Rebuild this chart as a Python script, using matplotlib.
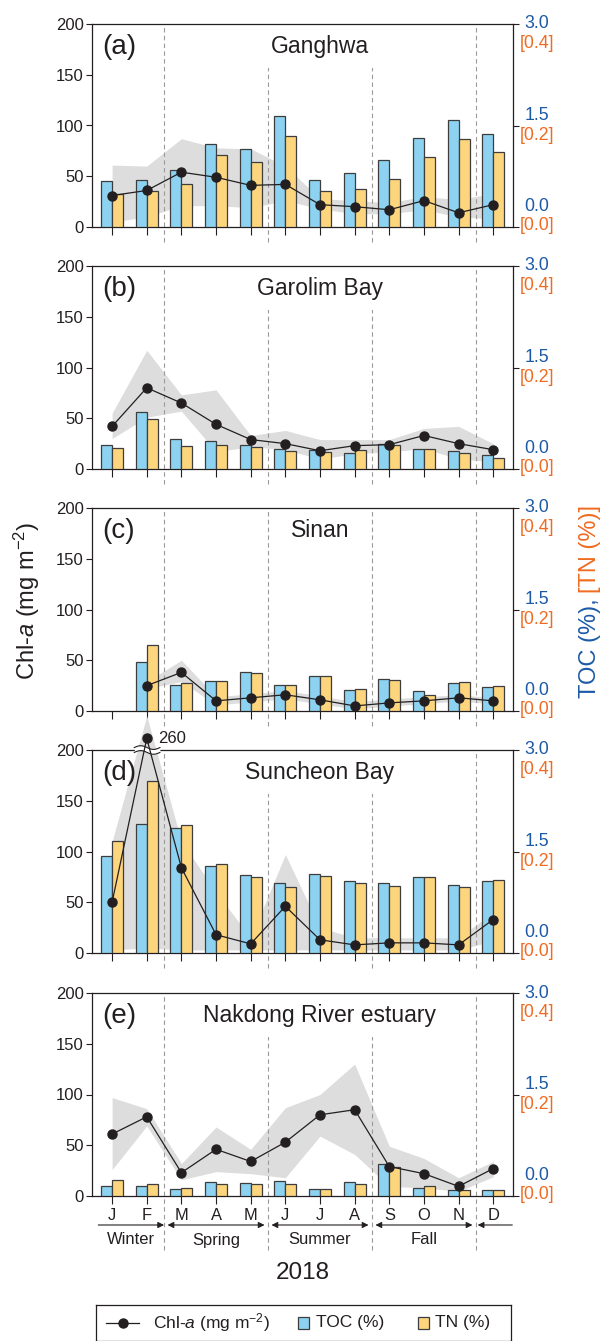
import numpy as np
import matplotlib
matplotlib.use('Agg')
import matplotlib.pyplot as plt
import matplotlib.transforms as mtransforms
from matplotlib import font_manager
from matplotlib.patches import Rectangle

names = {f.name for f in font_manager.fontManager.ttflist}
SANS = 'Liberation Sans' if 'Liberation Sans' in names else 'DejaVu Sans'
HAS_NARROW = 'Liberation Sans Narrow' in names
NARROW = 'Liberation Sans Narrow' if HAS_NARROW else SANS
NK = 1.0 if HAS_NARROW else 0.85   # shrink sizes if no narrow face

plt.rcParams['font.family'] = [SANS, 'DejaVu Sans']
plt.rcParams['mathtext.fontset'] = 'custom'
plt.rcParams['mathtext.rm'] = SANS
plt.rcParams['mathtext.it'] = SANS + ':italic'

INK = '#231f20'
BLUE = '#8dd3f1'
YELLOW = '#fdd57c'
EDGE = '#3d3d3d'
BAND = '#dddddd'
TOC_C = '#1c5aa6'
TN_C = '#f06b22'

months = ['J', 'F', 'M', 'A', 'M', 'J', 'J', 'A', 'S', 'O', 'N', 'D']
sites = ['Ganghwa', 'Garolim Bay', 'Sinan', 'Suncheon Bay', 'Nakdong River estuary']
letters = ['(a)', '(b)', '(c)', '(d)', '(e)']
seasons = ['Winter', 'Spring', 'Summer', 'Fall']
nan = np.nan

# Chl-a (mg m-2): mean, upper and lower edge of the shaded range
chl_a = [31, 36, 54, 49, 41, 42, 22, 20, 17, 26, 14, 22]
chl_a_hi = [61, 60, 87, 78, 77, 60, 28, 26, 24, 30, 27, 33]
chl_a_lo = [5, 10, 21, 21, 19, 26, 18, 13, 13, 17, 10, 8]
chl_b = [42, 80, 65, 44, 29, 25, 18, 23, 24, 33, 25, 19]
chl_b_hi = [55, 117, 73, 78, 33, 38, 29, 29, 29, 40, 42, 25]
chl_b_lo = [30, 51, 57, 17, 22, 19, 10, 15, 17, 20, 10, 7]
chl_c = [nan, 25, 38, 10, 13, 16, 11, 5, 8, 10, 13, 10]
chl_c_hi = [nan, 29, 50, 14, 17, 20, 15, 9, 12, 14, 16, 13]
chl_c_lo = [nan, 22, 29, 6, 9, 12, 7, 2, 5, 7, 10, 7]
chl_d = [50, 260, 84, 18, 9, 46, 13, 8, 10, 10, 8, 33]
chl_d_hi = [110, 377, 110, 60, 15, 97, 25, 15, 15, 15, 15, 40]
chl_d_lo = [3, 5, 3, 3, 3, 3, 3, 3, 3, 3, 3, 12]
chl_e = [61, 78, 23, 46, 34, 53, 80, 85, 29, 22, 9.5, 27]
chl_e_hi = [97, 86, 32, 68, 46, 87, 100, 130, 49, 37, 18, 34]
chl_e_lo = [26, 69, 16, 24, 22, 18, 59, 41, 9.5, 8, 4.6, 19]

# TOC (%)
toc_a = [0.68, 0.69, 0.84, 1.22, 1.16, 1.64, 0.69, 0.80, 0.99, 1.31, 1.58, 1.38]
toc_b = [0.36, 0.84, 0.44, 0.42, 0.35, 0.30, 0.28, 0.24, 0.37, 0.29, 0.26, 0.20]
toc_c = [nan, 0.73, 0.39, 0.44, 0.57, 0.38, 0.51, 0.31, 0.47, 0.30, 0.42, 0.36]
toc_d = [1.43, 1.91, 1.85, 1.28, 1.15, 1.03, 1.17, 1.07, 1.04, 1.12, 1.00, 1.07]
toc_e = [0.15, 0.15, 0.10, 0.21, 0.19, 0.22, 0.10, 0.21, 0.47, 0.12, 0.09, 0.09]

# TN (%)
tn_a = [0.066, 0.070, 0.084, 0.142, 0.128, 0.180, 0.070, 0.074, 0.094, 0.138, 0.174, 0.148]
tn_b = [0.042, 0.098, 0.046, 0.048, 0.044, 0.036, 0.034, 0.037, 0.048, 0.040, 0.032, 0.021]
tn_c = [nan, 0.130, 0.055, 0.060, 0.074, 0.051, 0.068, 0.044, 0.062, 0.032, 0.058, 0.049]
tn_d = [0.220, 0.338, 0.253, 0.175, 0.150, 0.131, 0.152, 0.138, 0.132, 0.149, 0.131, 0.144]
tn_e = [0.031, 0.023, 0.015, 0.024, 0.023, 0.024, 0.013, 0.024, 0.057, 0.019, 0.011, 0.012]

panels = [
    (chl_a, chl_a_hi, chl_a_lo, toc_a, tn_a),
    (chl_b, chl_b_hi, chl_b_lo, toc_b, tn_b),
    (chl_c, chl_c_hi, chl_c_lo, toc_c, tn_c),
    (chl_d, chl_d_hi, chl_d_lo, toc_d, tn_d),
    (chl_e, chl_e_hi, chl_e_lo, toc_e, tn_e),
]


def squash(v):
    # broken axis above 200
    v = np.asarray(v, dtype=float)
    return np.where(v > 200, 200 + (v - 200) * 0.19, v)


fig = plt.figure(figsize=(6.04, 13.41), dpi=100)
FW, FH = 604.0, 1341.0
x = np.arange(len(months))
bottoms = [227, 469, 711, 953, 1196]

for i, (chl, hi, lo, toc, tn) in enumerate(panels):
    ax = fig.add_axes([92 / FW, 1 - bottoms[i] / FH, 421 / FW, 203 / FH])
    ax.set_xlim(-0.58, 11.57)
    ax.set_ylim(0, 200)
    ax_toc = ax.twinx()
    ax_toc.set_ylim(0, 3.0)
    ax_tn = ax.twinx()
    ax_tn.set_ylim(0, 0.4)
    ax_chl = ax.twinx()
    ax_chl.set_ylim(0, 200)
    for a in (ax_toc, ax_tn, ax_chl):
        a.patch.set_visible(False)
    for a in (ax_tn, ax_chl):
        for s in a.spines.values():
            s.set_visible(False)
        a.set_yticks([])
    for s in ('left', 'top', 'bottom'):
        ax_toc.spines[s].set_visible(False)
    ax.spines['right'].set_visible(False)
    for s in list(ax.spines.values()) + [ax_toc.spines['right']]:
        s.set_color(INK)
        s.set_linewidth(0.9)

    ax.set_yticks([0, 50, 100, 150, 200])
    ax.tick_params(axis='y', length=4, width=0.8, color=INK, labelcolor=INK,
                   labelsize=12, pad=2)
    ax.set_xticks(x)
    ax.tick_params(axis='x', length=6, width=0.8, color=INK, labelcolor=INK,
                   labelsize=14 * NK, pad=3)
    if i == 4:
        ax.set_xticklabels(months, family=NARROW)
    else:
        ax.set_xticklabels([])
    ax_toc.set_yticks([0, 1.5, 3.0])
    ax_toc.tick_params(axis='y', length=4, width=0.8, color=INK, labelright=False)

    # shaded range, dashed season separators
    ax.fill_between(x, squash(lo), squash(hi), color=BAND, lw=0, zorder=1,
                    clip_on=(i != 3))
    ylow = -54 / 203 if i == 4 else -15 / 203
    for xv in (1.5, 4.5, 7.5, 10.5):
        ax.plot([xv, xv], [ylow, 1], transform=ax.get_xaxis_transform(),
                color='#9a9a9a', lw=0.8, ls=(0, (4, 3)), clip_on=False, zorder=1.5)

    ax_toc.bar(x - 0.16, toc, width=0.32, color=BLUE, edgecolor=EDGE, linewidth=0.9)
    ax_tn.bar(x + 0.16, tn, width=0.32, color=YELLOW, edgecolor=EDGE, linewidth=0.9)

    ax_chl.plot(x, squash(chl), '-o', color=INK, lw=0.9, ms=6.5, clip_on=False, zorder=5)

    ax_chl.text(6.0, 0.887, sites[i], transform=ax_chl.get_xaxis_transform(),
                ha='center', va='center', fontsize=16.5, color=INK,
                bbox=dict(fc='white', ec='none', pad=7), zorder=3)
    ax_chl.text(0.024, 0.887, letters[i], transform=ax_chl.transAxes,
                ha='left', va='center', fontsize=20, color=INK)

    for txt, yy, c in (('3.0', 1.0, TOC_C), ('[0.4]', 0.905, TN_C),
                       ('1.5', 0.548, TOC_C), ('[0.2]', 0.453, TN_C),
                       ('0.0', 0.10, TOC_C), ('[0.0]', 0.005, TN_C)):
        ax.text(1.057, yy, txt, transform=ax.transAxes, ha='center', va='center',
                fontsize=15 * NK, color=c, family=NARROW)

    if i == 3:
        # axis break at the top for the off-scale value
        xs = np.linspace(0.64, 1.38, 40)
        wave = 0.009 * np.sin((xs - 0.64) / 0.74 * 2 * np.pi)
        tr = ax_chl.get_xaxis_transform()
        ax_chl.fill_between(xs, 0.988 + wave, 1.012 + wave, transform=tr,
                            color='white', lw=0, clip_on=False, zorder=4)
        for off in (-0.012, 0.012):
            ax_chl.plot(xs, 1 + off + wave, transform=tr, color=INK, lw=0.8,
                        clip_on=False, zorder=4.5)
        ax_chl.text(1.33, squash(chl)[1], f'{chl[1]:.0f}', ha='left', va='center',
                    fontsize=12, color=INK, clip_on=False)

    if i == 4:
        tr = mtransforms.blended_transform_factory(ax.transData, fig.transFigure)
        ya = 1 - 1225 / FH
        for x0, x1, style in ((-0.4, 1.5, '-|>'), (1.6, 4.4, '<|-|>'),
                              (4.6, 7.4, '<|-|>'), (7.6, 10.4, '<|-|>'),
                              (10.55, 11.55, '<|-')):
            ax.annotate('', xy=(x1, ya), xytext=(x0, ya), xycoords=tr, textcoords=tr,
                        arrowprops=dict(arrowstyle=style, color=INK, lw=0.8,
                                        mutation_scale=9, shrinkA=0, shrinkB=0),
                        annotation_clip=False)
        for name, xc in zip(seasons, (0.55, 3.0, 6.0, 9.0)):
            ax.text(xc, 1 - 1240 / FH, name, transform=tr, ha='center', va='center',
                    fontsize=14 * NK, color=INK, family=NARROW)

fig.text(303 / FW, 1 - 1273 / FH, '2018', ha='center', va='center', fontsize=17.5, color=INK)
fig.text(0.045, 0.552, 'Chl-$a$ (mg m$^{-2}$)', rotation=90, ha='center', va='center',
         fontsize=17, color=INK)
fig.text(0.977, 0.554, 'TOC (%),', rotation=90, ha='center', va='top', fontsize=17, color=TOC_C)
fig.text(0.977, 0.558, '[TN (%)]', rotation=90, ha='center', va='bottom', fontsize=17, color=TN_C)

# legend box
lg = fig.add_axes([96 / FW, 0.0, 415 / FW, 36 / FH])
lg.set_xlim(0, 1)
lg.set_ylim(0, 1)
lg.set_xticks([])
lg.set_yticks([])
for s in lg.spines.values():
    s.set_color(INK)
    s.set_linewidth(0.9)
ly = 0.5
lg.plot([0.024, 0.104], [ly, ly], color=INK, lw=0.9)
lg.plot([0.064], [ly], 'o', color=INK, ms=6.5)
lg.text(0.137, ly, 'Chl-$a$ (mg m$^{-2}$)', va='center', ha='left', fontsize=12.5, color=INK)
lg.add_patch(Rectangle((0.486, ly - 0.16), 0.027, 0.32, fc=BLUE, ec=EDGE, lw=0.9))
lg.text(0.53, ly, 'TOC (%)', va='center', ha='left', fontsize=12.5, color=INK)
lg.add_patch(Rectangle((0.775, ly - 0.16), 0.027, 0.32, fc=YELLOW, ec=EDGE, lw=0.9))
lg.text(0.817, ly, 'TN (%)', va='center', ha='left', fontsize=12.5, color=INK)

fig.savefig('out.png', dpi=100)
